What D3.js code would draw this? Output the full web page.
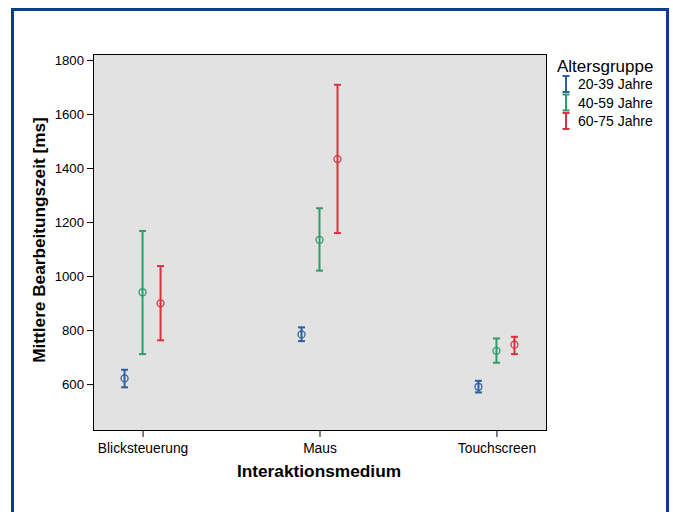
<!DOCTYPE html>
<html><head><meta charset="utf-8">
<script src="https://cdn.jsdelivr.net/npm/d3@7"></script>
<style>body{margin:0;background:#fff}svg{display:block;font-family:"Liberation Sans",Arial,sans-serif}</style>
</head><body><svg id="c" width="673" height="512"></svg>
<script>
const categories = ["Blicksteuerung","Maus","Touchscreen"];
const groups = ["20-39 Jahre","40-59 Jahre","60-75 Jahre"];
const colors = ["#2f5f9e","#2f9c68","#d8323e"];
// mean, lower, upper per group per category
const mean20 = [621, 784, 590];
const low20  = [588, 759, 569];
const high20 = [653, 810, 612];
const mean40 = [940, 1134, 723];
const low40  = [711, 1020, 679];
const high40 = [1167, 1251, 769];
const mean60 = [899, 1433, 746];
const low60  = [762, 1159, 711];
const high60 = [1037, 1708, 775];
const yTicks = [600, 800, 1000, 1200, 1400, 1600, 1800];

const series = [
  {name: groups[0], color: colors[0], mean: mean20, low: low20, high: high20},
  {name: groups[1], color: colors[1], mean: mean40, low: low40, high: high40},
  {name: groups[2], color: colors[2], mean: mean60, low: low60, high: high60}
];

const svg = d3.select("#c");
// outer frame
svg.append("rect").attr("x",12.5).attr("y",9.5).attr("width",655).attr("height",520)
  .attr("fill","none").attr("stroke","#0b3d8f").attr("stroke-width",3);

const L=93, T=54, R=546, B=430;
const x = d3.scalePoint().domain(categories).range([L,R]).padding(0.28);
const y = d3.scaleLinear().domain([430, 1822]).range([B,T]);
const off = d3.scalePoint().domain(groups).range([-18,18]);

svg.append("rect").attr("x",L).attr("y",T).attr("width",R-L).attr("height",B-T)
  .attr("fill","#e1e2e1");

const yAxis = svg.append("g").attr("transform",`translate(${L},0)`)
  .call(d3.axisLeft(y).tickValues(yTicks).tickSize(6).tickPadding(3).tickFormat(d3.format("d")));
yAxis.select(".domain").remove();
yAxis.selectAll("text").attr("font-size",13.2).attr("fill","#000");
yAxis.selectAll("line").attr("stroke","#000");

const xAxis = svg.append("g").attr("transform",`translate(0,${B})`)
  .call(d3.axisBottom(x).tickSize(7).tickPadding(6));
xAxis.select(".domain").remove();
xAxis.selectAll("text").attr("font-size",13.8).attr("fill","#000");
xAxis.selectAll("line").attr("stroke","#000");

svg.append("rect").attr("x",L+0.5).attr("y",T+0.5).attr("width",R-L).attr("height",B-T)
  .attr("fill","none").attr("stroke","#000").attr("stroke-width",1);

series.forEach(s => {
  const g = svg.append("g");
  categories.forEach((c,i) => {
    const cx = x(c) + off(s.name);
    g.append("line").attr("x1",cx).attr("x2",cx).attr("y1",y(s.low[i])).attr("y2",y(s.high[i]))
      .attr("stroke",s.color).attr("stroke-width",2);
    [s.low[i], s.high[i]].forEach(v => {
      g.append("line").attr("x1",cx-3.5).attr("x2",cx+3.5).attr("y1",y(v)).attr("y2",y(v))
        .attr("stroke",s.color).attr("stroke-width",2);
    });
    g.append("circle").attr("cx",cx).attr("cy",y(s.mean[i])).attr("r",3.5)
      .attr("fill","none").attr("stroke",s.color).attr("stroke-width",1.3);
  });
});

svg.append("text").attr("x",319).attr("y",477).attr("text-anchor","middle")
  .attr("font-size",17.3).attr("font-weight","bold").text("Interaktionsmedium");
svg.append("text").attr("transform","translate(45,240) rotate(-90)").attr("text-anchor","middle")
  .attr("font-size",17.2).attr("font-weight","bold").text("Mittlere Bearbeitungszeit [ms]");

const leg = svg.append("g");
leg.append("text").attr("x",557).attr("y",72).attr("font-size",17).text("Altersgruppe");
series.forEach((s,i) => {
  const yy = 76 + i*18.5;
  leg.append("line").attr("x1",566).attr("x2",566).attr("y1",yy).attr("y2",yy+16)
    .attr("stroke",s.color).attr("stroke-width",2);
  [yy, yy+16].forEach(v => leg.append("line").attr("x1",562.5).attr("x2",569.5).attr("y1",v).attr("y2",v)
    .attr("stroke",s.color).attr("stroke-width",2));
  leg.append("text").attr("x",578).attr("y",yy+13).attr("font-size",14).text(s.name);
});
</script></body></html>
